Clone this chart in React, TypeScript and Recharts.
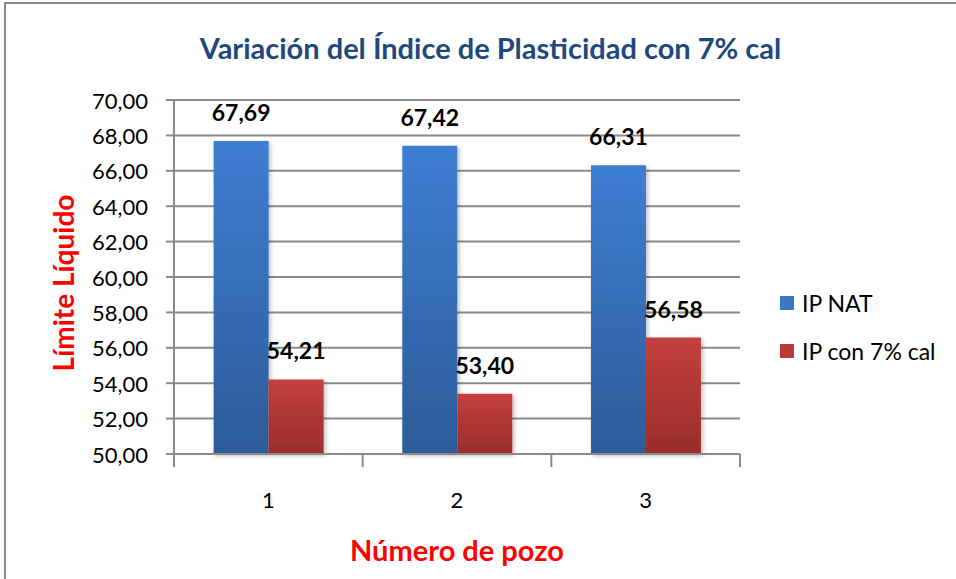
import { BarChart, Bar, XAxis, YAxis, CartesianGrid, LabelList } from 'recharts';

// data
const pozos = ['1', '2', '3'];
const ipNat = [67.69, 67.42, 66.31];
const ipCal = [54.21, 53.4, 56.58];
const seriesNames = ['IP NAT', 'IP con 7% cal'];
const yTicks = [50, 52, 54, 56, 58, 60, 62, 64, 66, 68, 70];

const W = 956;
const H = 579;
const PLOT_LEFT = 174;
const PLOT_RIGHT = 740;
const PLOT_TOP = 100;
const PLOT_BOTTOM = 454;
const BAND = (PLOT_RIGHT - PLOT_LEFT) / pozos.length;

const FONT = 'Lato, "Open Sans", sans-serif';
const GRID = '#8a8a8a';

const chartData = pozos.map((p, i) => ({ pozo: p, nat: ipNat[i], cal: ipCal[i] }));

const fmt = (v: number) => v.toFixed(2).replace('.', ',');

const legendColors = ['#3a78c6', '#b93b38'];

function CategoryTick(props: any) {
  const { x, payload, index } = props;
  const half = BAND / 2;
  return (
    <g>
      <line x1={x - half} x2={x - half} y1={PLOT_BOTTOM} y2={PLOT_BOTTOM + 13} stroke={GRID} strokeWidth={2} />
      {index === pozos.length - 1 && (
        <line x1={x + half} x2={x + half} y1={PLOT_BOTTOM} y2={PLOT_BOTTOM + 13} stroke={GRID} strokeWidth={2} />
      )}
      <text x={x} y={PLOT_BOTTOM + 45} textAnchor="middle" dominantBaseline="central" fontSize={22} fill="#000" fontFamily={FONT}>
        {payload.value}
      </text>
    </g>
  );
}

function ValueTick(props: any) {
  const { y, payload } = props;
  return (
    <g>
      <line x1={PLOT_LEFT - 8} x2={PLOT_LEFT} y1={y} y2={y} stroke={GRID} strokeWidth={2} />
      <text x={PLOT_LEFT - 26} y={y} textAnchor="end" dominantBaseline="central" fontSize={22} fill="#000" fontFamily={FONT}>
        {fmt(payload.value)}
      </text>
    </g>
  );
}

export default function App() {
  return (
    <div style={{ position: 'fixed', left: 0, top: 0, width: W, height: H, overflow: 'hidden', background: '#fff', fontFamily: FONT }}>
      <div style={{ position: 'absolute', left: 4, top: 2, width: 1000, height: 700, border: '2px solid #8a8a8a' }} />
      <div
        style={{
          position: 'absolute',
          left: 0,
          width: 981,
          top: 30,
          textAlign: 'center',
          fontSize: 29,
          fontWeight: 700,
          color: '#1f497d',
          lineHeight: '36px',
        }}
      >
        Variación del Índice de Plasticidad con 7% cal
      </div>

      <div style={{ position: 'absolute', left: 0, top: 0 }}>
        <BarChart
          width={W}
          height={H}
          data={chartData}
          margin={{ top: PLOT_TOP, right: W - PLOT_RIGHT, bottom: 0, left: 0 }}
          barGap={0}
          barCategoryGap="21%"
        >
          <defs>
            <linearGradient id="gBlue" x1="0" y1="0" x2="0" y2="1">
              <stop offset="0%" stopColor="#3d7ed2" />
              <stop offset="100%" stopColor="#2d5c99" />
            </linearGradient>
            <linearGradient id="gRed" x1="0" y1="0" x2="0" y2="1">
              <stop offset="0%" stopColor="#c4403d" />
              <stop offset="100%" stopColor="#992d2b" />
            </linearGradient>
            <filter id="shadow" x="-20%" y="-5%" width="140%" height="115%">
              <feDropShadow dx="2" dy="2" stdDeviation="2" floodColor="#000" floodOpacity="0.25" />
            </filter>
          </defs>
          <CartesianGrid horizontal vertical={false} stroke={GRID} strokeWidth={2} />
          <XAxis
            dataKey="pozo"
            height={H - PLOT_BOTTOM}
            axisLine={{ stroke: GRID, strokeWidth: 2 }}
            tickLine={false}
            tick={<CategoryTick />}
            interval={0}
            label={{
              content: () => (
                <text
                  x={(PLOT_LEFT + PLOT_RIGHT) / 2}
                  y={PLOT_BOTTOM + 95}
                  textAnchor="middle"
                  dominantBaseline="central"
                  fontSize={29}
                  fontWeight={700}
                  fill="#ff0000"
                  fontFamily={FONT}
                >
                  Número de pozo
                </text>
              ),
            }}
          />
          <YAxis
            width={PLOT_LEFT}
            domain={[50, 70]}
            ticks={yTicks}
            interval={0}
            axisLine={{ stroke: GRID, strokeWidth: 2 }}
            tickLine={false}
            tick={<ValueTick />}
            label={{
              content: () => (
                <text
                  x={63}
                  y={283}
                  transform="rotate(-90 63 283)"
                  textAnchor="middle"
                  dominantBaseline="central"
                  fontSize={28}
                  fontWeight={700}
                  fill="#ff0000"
                  fontFamily={FONT}
                >
                  Límite Líquido
                </text>
              ),
            }}
          />
          <Bar dataKey="nat" name={seriesNames[0]} fill="url(#gBlue)" filter="url(#shadow)" isAnimationActive={false}>
            <LabelList dataKey="nat" position="top" offset={20} formatter={(v: any) => fmt(Number(v))} fill="#000" fontSize={23} fontWeight={700} fontFamily={FONT} />
          </Bar>
          <Bar dataKey="cal" name={seriesNames[1]} fill="url(#gRed)" filter="url(#shadow)" isAnimationActive={false}>
            <LabelList dataKey="cal" position="top" offset={20} formatter={(v: any) => fmt(Number(v))} fill="#000" fontSize={23} fontWeight={700} fontFamily={FONT} />
          </Bar>
        </BarChart>
      </div>

      <div style={{ position: 'absolute', left: 780, top: 279 }}>
        {seriesNames.map((name, i) => (
          <div key={name} style={{ display: 'flex', alignItems: 'center', height: 48, fontSize: 23, color: '#000' }}>
            <span style={{ display: 'inline-block', width: 14, height: 14, background: legendColors[i], marginRight: 8 }} />
            {name}
          </div>
        ))}
      </div>
    </div>
  );
}
